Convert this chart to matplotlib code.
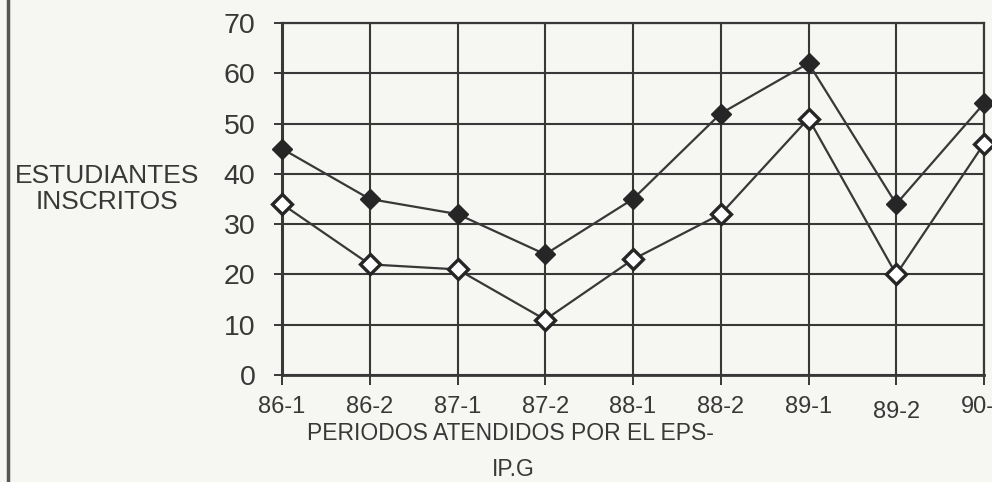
import matplotlib.pyplot as plt
import matplotlib.transforms as mtransforms
from matplotlib.lines import Line2D

# periodos y estudiantes inscritos
periodos = ["86-1", "86-2", "87-1", "87-2", "88-1", "88-2", "89-1", "89-2", "90-1"]
serie_llena = [45, 35, 32, 24, 35, 52, 62, 34, 54]
serie_vacia = [34, 22, 21, 11, 23, 32, 51, 20, 46]
y_ticks = [0, 10, 20, 30, 40, 50, 60, 70]

gris = "#383838"
fondo = "#f6f6f3"
fuente = ["Liberation Sans", "DejaVu Sans"]

fig = plt.figure(figsize=(9.92, 4.82), dpi=100, facecolor=fondo)
ax = fig.add_axes([282 / 992, 107 / 482, 702 / 992, 352 / 482], facecolor=fondo)

x = list(range(len(periodos)))
ax.plot(x, serie_llena, color=gris, linewidth=1.6, marker="D", markersize=10.5,
        markerfacecolor="#262626", markeredgecolor="#262626", clip_on=False, zorder=4)
ax.plot(x, serie_vacia, color=gris, linewidth=1.6, marker="D", markersize=10,
        markerfacecolor="white", markeredgecolor="#262626", markeredgewidth=2.4,
        clip_on=False, zorder=4)

ax.set_xlim(0, len(periodos) - 1)
ax.set_ylim(0, 70)
ax.set_yticks(y_ticks)
ax.set_xticks(x)
ax.set_xticklabels(periodos, family=fuente, fontsize=17, color=gris)
ax.set_yticklabels([str(v) for v in y_ticks], family=fuente, fontsize=20.5, color=gris)
ax.tick_params(axis="x", length=7, width=1.4, color=gris, pad=8)
ax.tick_params(axis="y", length=6, width=1.4, color=gris, pad=13)

# 89-2 queda un poco mas abajo
lbl = ax.get_xticklabels()[7]
lbl.set_transform(lbl.get_transform() + mtransforms.ScaledTranslation(0, -5 / 100, fig.dpi_scale_trans))

ax.grid(True, color=gris, linewidth=1.5)
ax.set_axisbelow(True)
for s in ax.spines.values():
    s.set_color(gris)
    s.set_linewidth(1.6)
ax.spines["left"].set_linewidth(2.2)
ax.spines["bottom"].set_linewidth(2.0)

fig.text(107 / 992, 1 - 189 / 482, "ESTUDIANTES\nINSCRITOS", ha="center", va="center",
         family=fuente, fontsize=19, color=gris, linespacing=1.15)
fig.text(510 / 992, 1 - 434 / 482, "PERIODOS ATENDIDOS POR EL EPS-", ha="center", va="center",
         family=fuente, fontsize=16.5, color=gris)
fig.text(513 / 992, 1 - 469 / 482, "IP.G", ha="center", va="center",
         family=fuente, fontsize=16.5, color=gris)

# borde izquierdo de la hoja
fig.add_artist(Line2D([8 / 992, 8 / 992], [0, 1], color="#555555", linewidth=2.5,
                      transform=fig.transFigure))

fig.savefig("out.png", dpi=100, facecolor=fondo)
